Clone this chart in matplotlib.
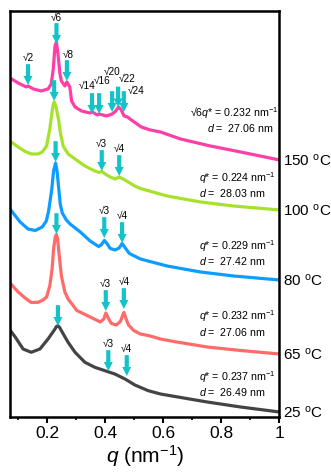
import numpy as np
import matplotlib
matplotlib.use('Agg')
import matplotlib.pyplot as plt

plt.rcParams['font.family'] = ['Liberation Sans', 'DejaVu Sans']
plt.rcParams['mathtext.fontset'] = 'custom'
plt.rcParams['mathtext.rm'] = 'Liberation Sans'
plt.rcParams['mathtext.it'] = 'Liberation Sans:italic'
plt.rcParams['mathtext.default'] = 'regular'

# SAXS profiles, offset for clarity (intensity in a.u.)
pink_q = [0.072, 0.100, 0.128, 0.134, 0.152, 0.179, 0.203, 0.214, 0.221, 0.227,
          0.232, 0.238, 0.244, 0.249, 0.261, 0.268, 0.278, 0.284, 0.296, 0.318,
          0.347, 0.355, 0.373, 0.379, 0.404, 0.424, 0.436, 0.446, 0.455, 0.465,
          0.476, 0.490, 0.524, 0.555, 0.590, 0.659, 0.762, 0.866, 1.0]
pink_I = [3.39, 3.34, 3.30, 3.31, 3.28, 3.26, 3.28, 3.33, 3.48, 3.71,
          3.75, 3.61, 3.43, 3.36, 3.31, 3.35, 3.30, 3.16, 3.10, 3.06,
          3.04, 3.05, 3.02, 3.03, 3.01, 3.03, 3.06, 3.10, 3.07, 3.01,
          3.00, 2.97, 2.90, 2.87, 2.85, 2.78, 2.71, 2.65, 2.57]

green_q = [0.072, 0.100, 0.124, 0.146, 0.169, 0.183, 0.198, 0.209, 0.215, 0.220,
           0.224, 0.229, 0.234, 0.240, 0.245, 0.255, 0.272, 0.296, 0.330, 0.364,
           0.379, 0.388, 0.400, 0.417, 0.434, 0.448, 0.462, 0.476, 0.502, 0.521,
           0.613, 0.728, 0.841, 1.0]
green_I = [2.76, 2.70, 2.655, 2.63, 2.63, 2.65, 2.71, 2.88, 3.01, 3.11,
           3.15, 3.12, 3.05, 2.96, 2.85, 2.71, 2.63, 2.58, 2.51, 2.46,
           2.445, 2.455, 2.43, 2.40, 2.38, 2.40, 2.38, 2.355, 2.31, 2.285,
           2.21, 2.15, 2.11, 2.07]

blue_q = [0.072, 0.107, 0.134, 0.159, 0.183, 0.197, 0.205, 0.216, 0.222, 0.229,
          0.234, 0.240, 0.245, 0.252, 0.266, 0.279, 0.314, 0.348, 0.377, 0.386,
          0.397, 0.407, 0.417, 0.434, 0.448, 0.458, 0.469, 0.483, 0.521, 0.613,
          0.728, 0.842, 1.0]
blue_I = [2.08, 1.95, 1.88, 1.865, 1.90, 1.96, 2.06, 2.28, 2.46, 2.54,
          2.46, 2.28, 2.13, 2.04, 1.97, 1.93, 1.85, 1.76, 1.705, 1.72,
          1.765, 1.73, 1.685, 1.67, 1.69, 1.735, 1.69, 1.635, 1.58, 1.51,
          1.45, 1.41, 1.37]

red_q = [0.072, 0.100, 0.124, 0.145, 0.169, 0.186, 0.198, 0.209, 0.217, 0.222,
         0.228, 0.232, 0.236, 0.241, 0.249, 0.261, 0.272, 0.284, 0.302, 0.348,
         0.383, 0.395, 0.402, 0.410, 0.421, 0.438, 0.452, 0.464, 0.472, 0.480,
         0.498, 0.521, 0.555, 0.590, 0.636, 0.751, 0.866, 1.0]
red_I = [1.34, 1.25, 1.19, 1.145, 1.147, 1.17, 1.20, 1.31, 1.48, 1.68,
         1.80, 1.825, 1.78, 1.63, 1.41, 1.25, 1.18, 1.135, 1.065, 1.00,
         0.95, 0.98, 1.04, 0.99, 0.935, 0.92, 0.955, 1.045, 0.98, 0.92,
         0.865, 0.83, 0.81, 0.78, 0.755, 0.70, 0.665, 0.63]

grey_q = [0.072, 0.090, 0.117, 0.145, 0.175, 0.203, 0.227, 0.232, 0.237, 0.243,
          0.249, 0.272, 0.296, 0.330, 0.364, 0.399, 0.433, 0.468, 0.502, 0.548,
          0.590, 0.636, 0.751, 0.866, 1.0]
grey_I = [0.87, 0.80, 0.68, 0.647, 0.68, 0.78, 0.88, 0.905, 0.913, 0.895,
          0.863, 0.747, 0.647, 0.547, 0.497, 0.463, 0.43, 0.38, 0.32, 0.263,
          0.23, 0.207, 0.15, 0.10, 0.05]

temps = ['150', '100', '80', '65', '25']
colors = ['#FF3FA6', '#A6E22C', '#0D9CFF', '#FF6B6B', '#444444']
qstars = [0.232, 0.224, 0.229, 0.232, 0.237]
d_spacings = ['27.06', '28.03', '27.42', '27.06', '26.49']

# reflection orders and arrow tip heights
pink_orders = [2, 6, 8, 14, 16, 20, 22, 24]
pink_tips = [3.32, 3.73, 3.36, 3.03, 3.03, 3.05, 3.095, 3.05]
lam_orders = [1, 3, 4]
green_tips = [3.16, 2.46, 2.41]
blue_tips = [2.55, 1.79, 1.74]
red_tips = [1.83, 1.06, 1.08]
grey_tips = [0.91, 0.46, 0.41]

# label offsets (points) from the arrow tip, staggered where crowded
pink_label_off = [(0, 20.4), (0, 19.4), (1, 19.2), (-3.7, 21), (2, 24.5),
                  (0, 29.5), (6.5, 21), (9, 16)]
default_label_off = (0, 20.5)

# text positions (intensity) for q*/d notes
note_y = [(3.045, 2.895), (2.40, 2.25), (1.715, 1.565), (1.015, 0.86), (0.405, 0.255)]

arrow_color = '#14C3C8'

fig = plt.figure(figsize=(3.31, 4.77), dpi=100)
ax = fig.add_axes([0.0302, 0.1237, 0.8142, 0.8512])

curves = [(pink_q, pink_I), (green_q, green_I), (blue_q, blue_I),
          (red_q, red_I), (grey_q, grey_I)]
for (q, I), c in zip(curves, colors):
    ax.plot(q, I, color=c, lw=2.3, solid_capstyle='butt', zorder=2)


def arrow(q, tip, label, off=default_label_off):
    ax.annotate('', xy=(q, tip), xytext=(0, 15), textcoords='offset points',
                arrowprops=dict(arrowstyle='simple,head_length=0.65,head_width=0.65,tail_width=0.3',
                                color=arrow_color, lw=0, shrinkA=0, shrinkB=0,
                                mutation_scale=10),
                zorder=4)
    if label:
        ax.annotate(label, xy=(q, tip), xytext=off, textcoords='offset points',
                    ha='center', va='center', fontsize=7.2, zorder=5)


q1 = qstars[0] / np.sqrt(6)
for n, tip, off in zip(pink_orders, pink_tips, pink_label_off):
    arrow(q1 * np.sqrt(n), tip, '√%d' % n, off)

for qs, tips in zip(qstars[1:], [green_tips, blue_tips, red_tips, grey_tips]):
    for n, tip in zip(lam_orders, tips):
        arrow(qs * np.sqrt(n), tip, '' if n == 1 else '√%d' % n)

# q* and d-spacing notes
fs_note = 7.7
y1, y2 = note_y[0]
ax.text(0.995, y1, r'√6$\mathit{q}$* = %.3f nm$^{-1}$' % qstars[0], ha='right', va='center', fontsize=fs_note)
ax.text(0.981, y2, r'$\mathit{d}$ =  %s nm' % d_spacings[0], ha='right', va='center', fontsize=fs_note)
for qs, dd, (y1, y2) in zip(qstars[1:], d_spacings[1:], note_y[1:]):
    ax.text(0.722, y1, r'$\mathit{q}$* = %.3f nm$^{-1}$' % qs, ha='left', va='center', fontsize=fs_note)
    ax.text(0.722, y2, r'$\mathit{d}$ =  %s nm' % dd, ha='left', va='center', fontsize=fs_note)

# temperature labels at the right end of each curve
trans = ax.get_yaxis_transform()
for (q, I), t in zip(curves, temps):
    ax.text(1.012, I[-1], t + ' $^{o}$C', transform=trans, ha='left', va='center',
            fontsize=11, clip_on=False)

ax.set_xlim(0.072, 1.0)
ax.set_ylim(0, 4.06)
ax.set_xticks([0.2, 0.4, 0.6, 0.8, 1.0])
ax.set_xticklabels(['0.2', '0.4', '0.6', '0.8', '1'])
ax.set_xticks(np.arange(0.1, 1.0, 0.2), minor=True)
ax.set_yticks([])
ax.tick_params(axis='x', which='major', direction='out', length=4, width=1.5,
               labelsize=12.5, pad=2)
ax.tick_params(axis='x', which='minor', direction='out', length=2.5, width=1.2)
for s in ax.spines.values():
    s.set_linewidth(1.8)
ax.set_xlabel(r'$\mathit{q}$ (nm$^{-1}$)', fontsize=15, labelpad=1)

fig.savefig('out.png', dpi=100)
